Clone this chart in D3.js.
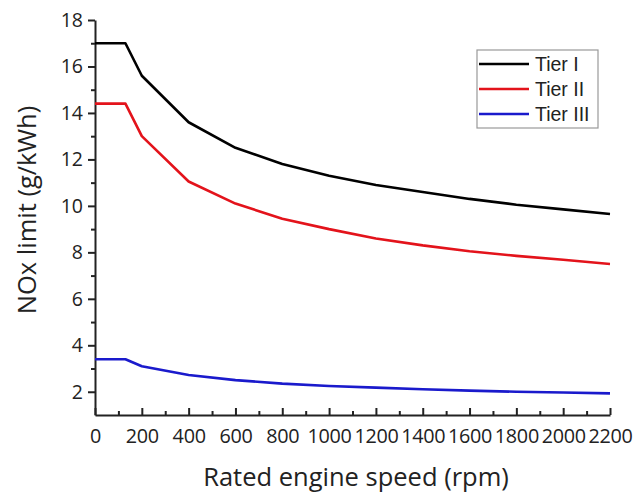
<!DOCTYPE html>
<html>
<head>
<meta charset="utf-8">
<script src="https://cdn.jsdelivr.net/npm/d3@7"></script>
<style>
  body { margin: 0; background: #fff; }
  svg text { font-family: "Open Sans", sans-serif; fill: #222; }
  .legend text { font-family: "Liberation Sans", Arial, sans-serif; }
</style>
</head>
<body>
<div id="chart"></div>
<script>
// engine speed values (rpm) where the limits were read
var speeds = [0, 130, 200, 400, 600, 800, 1000, 1200, 1400, 1600, 1800, 2000, 2200];
// NOx limits, g/kWh
var tier1 = [17, 17, 15.6, 13.6, 12.5, 11.8, 11.3, 10.9, 10.6, 10.3, 10.05, 9.85, 9.65];
var tier2 = [14.4, 14.4, 13.0, 11.05, 10.1, 9.45, 9.0, 8.6, 8.3, 8.05, 7.85, 7.68, 7.5];
var tier3 = [3.4, 3.4, 3.1, 2.72, 2.5, 2.35, 2.25, 2.18, 2.11, 2.05, 2.0, 1.97, 1.93];
var seriesNames = ["Tier I", "Tier II", "Tier III"];
var seriesColors = ["#000000", "#e3131b", "#1a1acc"];
var xTicks = [0, 200, 400, 600, 800, 1000, 1200, 1400, 1600, 1800, 2000, 2200];
var yTicks = [2, 4, 6, 8, 10, 12, 14, 16, 18];

var W = 636, H = 492;
var margin = {top: 20, right: 26, bottom: 77, left: 95},
    width = W - margin.left - margin.right,
    height = H - margin.top - margin.bottom;

var svg = d3.select("#chart").append("svg")
    .attr("width", W)
    .attr("height", H);
var g = svg.append("g")
    .attr("transform", "translate(" + margin.left + "," + margin.top + ")");

var x = d3.scaleLinear().domain([0, 2200]).range([0, width]);
var y = d3.scaleLinear().domain([1, 18]).range([height, 0]);

// minor ticks first, so the major ones sit on top
g.append("g")
    .attr("transform", "translate(0," + height + ")")
    .call(d3.axisBottom(x).tickValues(d3.range(100, 2200, 200)).tickSize(-4).tickFormat(""))
    .call(function (s) { s.select(".domain").remove(); });
g.append("g")
    .call(d3.axisLeft(y).tickValues(d3.range(3, 18, 2)).tickSize(4).tickFormat(""))
    .call(function (s) { s.select(".domain").remove(); });

// x axis
var xAxis = g.append("g")
    .attr("transform", "translate(0," + height + ")")
    .call(d3.axisBottom(x).tickValues(xTicks).tickFormat(d3.format("d"))
        .tickSize(-7).tickSizeOuter(0).tickPadding(15));
xAxis.selectAll("text").style("font-size", "19.8px").attr("dy", "0.68em")
    .attr("letter-spacing", "-0.3px");

// y axis
var yAxis = g.append("g")
    .call(d3.axisLeft(y).tickValues(yTicks).tickSize(7).tickSizeOuter(0).tickPadding(5));
yAxis.selectAll("text").style("font-size", "19.5px");

g.selectAll(".domain, .tick line").attr("stroke", "#222").attr("stroke-width", 2);

// lines
var series = [tier1, tier2, tier3];
var line = d3.line()
    .x(function (d, i) { return x(speeds[i]); })
    .y(function (d) { return y(d); });

g.selectAll(".series")
    .data(series)
    .enter().append("path")
    .attr("class", "series")
    .attr("fill", "none")
    .attr("stroke", function (d, i) { return seriesColors[i]; })
    .attr("stroke-width", 2.6)
    .attr("stroke-linejoin", "round")
    .attr("d", line);

// axis titles
svg.append("text")
    .attr("x", 356)
    .attr("y", 486)
    .attr("text-anchor", "middle")
    .style("font-size", "25.5px")
    .text("Rated engine speed (rpm)");

svg.append("text")
    .attr("transform", "translate(36,210) rotate(-90)")
    .attr("text-anchor", "middle")
    .style("font-size", "25.5px")
    .text("NOx limit (g/kWh)");

// legend
var legend = svg.append("g").attr("class", "legend")
    .attr("transform", "translate(477,50)");
legend.append("rect")
    .attr("width", 121).attr("height", 78)
    .attr("fill", "#fff").attr("stroke", "#999").attr("stroke-width", 1.2);
var items = legend.selectAll(".item")
    .data(seriesNames)
    .enter().append("g")
    .attr("class", "item")
    .attr("transform", function (d, i) { return "translate(0," + (14 + i * 25) + ")"; });
items.append("line")
    .attr("x1", 2).attr("x2", 52)
    .attr("stroke", function (d, i) { return seriesColors[i]; })
    .attr("stroke-width", 2.6);
items.append("text")
    .attr("x", 58).attr("dy", "0.36em")
    .style("font-size", "19.5px")
    .text(function (d) { return d; });
</script>
</body>
</html>
